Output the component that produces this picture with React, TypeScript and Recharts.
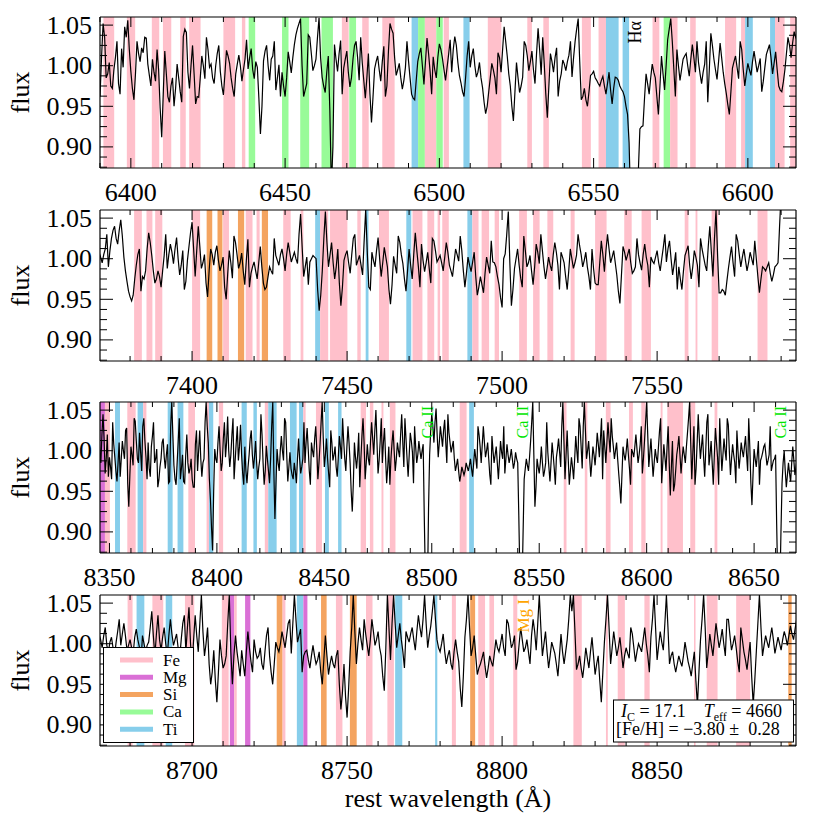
import React from "react";
import { LineChart, Line, XAxis, YAxis, ReferenceArea, ReferenceLine } from "recharts";

const FONT = "'Liberation Serif', 'Times New Roman', serif";

const ELEMENT_COLORS: Record<string, string> = {
  Fe: "#ffc0cb",
  Mg: "#da70d6",
  Si: "#f4a460",
  Ca: "#98fb98",
  Ti: "#87ceeb",
};
const LEGEND_ELEMENTS = ["Fe", "Mg", "Si", "Ca", "Ti"];

const Y_DOMAIN: [number, number] = [0.874, 1.06];
const Y_TICKS = [0.875, 0.8875, 0.9, 0.9125, 0.925, 0.9375, 0.95, 0.9625, 0.975, 0.9875, 1.0, 1.0125, 1.025, 1.0375, 1.05];

// panel 1: flux at 6390, 6391, ... A (FLUX) and at 6390.5, 6391.5, ... A (HALF)
const FLUX_1 = [
  0.962, 1.052, 0.985, 1.004, 0.972, 1.010, 0.978, 1.021, 1.048, 1.056,
  0.993, 0.958, 1.030, 1.005, 1.016, 1.034, 0.988, 1.008, 0.981, 0.995,
  0.912, 1.018, 0.962, 0.975, 0.950, 1.002, 0.968, 1.036, 1.041, 0.972,
  1.025, 0.953, 0.961, 1.012, 0.984, 1.020, 1.002, 0.978, 1.015, 0.993,
  0.964, 1.019, 1.003, 0.972, 0.990, 1.013, 0.981, 1.008, 0.996, 1.021,
  0.984, 0.998, 0.916, 1.006, 1.025, 0.982, 1.012, 0.970, 1.001, 0.992,
  0.962, 1.017, 0.991, 1.026, 1.046, 1.058, 0.962, 0.978, 1.035, 0.994,
  1.008, 1.059, 0.986, 0.967, 1.012, 0.850, 1.026, 0.993, 1.031, 0.997,
  1.018, 0.974, 1.008, 1.030, 0.982, 1.004, 0.960, 1.015, 0.930, 0.996,
  1.012, 0.981, 1.024, 0.975, 1.052, 1.040, 0.988, 1.003, 0.971, 0.998,
  1.006, 0.965, 0.958, 1.005, 1.022, 0.977, 1.034, 0.993, 1.011, 0.985,
  1.027, 1.009, 0.982, 1.014, 0.992, 1.036, 1.004, 0.979, 0.962, 1.012,
  0.998, 1.021, 0.986, 1.004, 0.973, 0.941, 0.968, 1.003, 0.985, 1.016,
  0.992, 1.048, 1.012, 0.975, 0.932, 1.004, 0.967, 0.986, 1.025, 0.994,
  1.018, 0.978, 1.046, 0.989, 1.002, 0.936, 1.015, 0.992, 1.022, 0.981,
  1.007, 0.994, 1.013, 0.986, 1.030, 1.058, 0.958, 0.972, 0.950, 0.988,
  0.993, 0.982, 0.975, 0.987, 0.965, 0.992, 0.953, 0.986, 0.982, 0.971,
  0.962, 0.940, 0.830, 0.815, 0.835, 0.922, 0.926, 0.990, 0.965, 1.002,
  0.985, 0.940, 1.012, 0.970, 1.032, 1.058, 0.996, 1.020, 0.982, 1.008,
  1.015, 0.987, 1.026, 0.992, 1.004, 0.978, 1.002, 0.955, 1.040, 1.008,
  0.983, 1.028, 0.992, 0.966, 0.940, 0.997, 1.012, 0.984, 1.020, 0.975,
  1.003, 0.988, 1.018, 0.992, 1.009, 0.981, 1.014, 1.026, 0.990, 1.017,
  0.975, 0.968, 0.995, 1.035, 1.010, 1.042, 1.030,
];
const HALF_1 = [
  1.010, 1.035, 0.990, 0.975, 0.995, 1.030, 0.965, 0.998, 1.035, 1.020,
  0.972, 0.990, 1.015, 1.022, 1.035, 1.002, 0.975, 0.992, 1.020, 0.948,
  0.965, 0.990, 0.955, 0.985, 0.972, 0.985, 0.955, 1.045, 0.992, 1.000,
  0.990, 0.962, 0.985, 1.000, 1.035, 0.998, 0.985, 1.000, 1.025, 0.975,
  0.990, 1.012, 0.985, 0.962, 1.002, 1.000, 0.995, 1.032, 1.010, 0.995,
  1.005, 0.960, 0.950, 1.018, 1.000, 1.008, 1.030, 0.985, 0.962, 0.975,
  0.985, 1.005, 1.010, 1.038, 1.052, 1.000, 0.970, 1.038, 1.015, 1.000,
  1.035, 1.010, 0.975, 0.992, 0.945, 0.900, 1.008, 1.015, 0.965, 1.008,
  0.992, 0.985, 1.025, 1.010, 1.035, 0.982, 0.985, 0.965, 0.962, 1.005,
  0.995, 1.005, 0.962, 1.018, 1.045, 1.010, 0.995, 0.985, 0.982, 1.030,
  0.985, 0.960, 0.982, 1.015, 1.000, 1.005, 1.015, 0.965, 0.995, 1.010,
  1.020, 0.995, 0.998, 1.032, 1.020, 1.025, 0.988, 0.968, 0.985, 1.030,
  1.012, 1.000, 0.992, 0.985, 0.955, 0.950, 0.985, 0.995, 0.965, 1.010,
  1.020, 1.030, 0.990, 0.950, 0.968, 0.985, 0.975, 1.030, 1.012, 1.005,
  0.995, 1.015, 1.020, 1.035, 0.965, 0.975, 1.005, 1.010, 0.962, 0.990,
  1.002, 1.005, 1.030, 1.010, 1.045, 1.005, 0.962, 0.958, 0.968, 0.990,
  0.985, 0.978, 0.982, 0.975, 0.978, 0.970, 0.972, 0.985, 0.975, 0.968,
  0.950, 0.905, 0.820, 0.820, 0.870, 0.925, 0.960, 0.978, 0.985, 0.992,
  0.962, 0.975, 0.990, 1.000, 1.045, 1.030, 0.962, 1.000, 0.995, 1.012,
  1.000, 1.008, 1.010, 1.030, 0.990, 0.992, 1.030, 0.995, 1.025, 0.995,
  1.005, 1.010, 0.978, 0.952, 0.968, 1.005, 0.998, 1.030, 0.995, 0.990,
  0.995, 1.005, 1.005, 1.000, 0.968, 0.998, 1.020, 1.010, 1.003, 0.995,
  0.970, 0.980, 1.015, 1.025, 1.028, 1.035, 1.040,
];

// panel 2: 7370..7595 A
const FLUX_2 = [
  1.008, 0.995, 1.012, 0.990, 1.025, 1.040, 1.018, 1.048, 1.002, 0.972,
  0.953, 0.955, 0.992, 1.012, 0.978, 0.985, 1.032, 1.004, 0.970, 0.985,
  0.965, 1.004, 0.988, 1.018, 0.994, 1.026, 0.980, 1.010, 0.972, 1.015,
  1.045, 0.978, 1.040, 0.988, 1.005, 0.953, 1.012, 0.992, 1.016, 0.985,
  1.002, 0.950, 1.010, 0.976, 1.020, 0.988, 1.007, 0.968, 1.024, 0.982,
  0.996, 0.975, 1.015, 0.970, 0.965, 0.990, 0.981, 1.004, 0.992, 1.012,
  0.985, 1.020, 0.996, 1.008, 0.994, 1.055, 0.978, 1.002, 0.996, 1.004,
  1.000, 0.936, 0.985, 1.058, 0.990, 1.020, 0.975, 1.012, 0.942, 0.998,
  1.010, 0.982, 1.025, 0.992, 1.004, 0.980, 1.060, 0.965, 1.008, 0.990,
  1.026, 0.978, 1.014, 0.990, 0.944, 1.003, 0.982, 1.020, 0.994, 0.960,
  1.012, 0.975, 1.032, 0.990, 1.018, 0.984, 1.008, 0.970, 1.022, 0.996,
  1.004, 0.985, 1.020, 0.992, 0.978, 1.012, 0.997, 1.010, 0.965, 1.002,
  0.984, 1.008, 0.955, 0.978, 0.958, 1.002, 0.982, 0.996, 0.990, 0.968,
  0.940, 1.006, 1.058, 0.942, 0.988, 1.012, 0.976, 1.028, 0.990, 1.004,
  0.968, 1.018, 0.994, 1.010, 0.975, 1.002, 0.985, 1.020, 0.992, 1.008,
  0.995, 0.962, 1.012, 0.988, 1.004, 1.016, 0.990, 1.008, 0.978, 1.012,
  0.970, 0.968, 1.022, 0.984, 1.030, 0.995, 1.010, 0.980, 0.945, 1.015,
  0.998, 1.012, 0.982, 0.990, 1.005, 0.986, 1.018, 0.992, 1.002, 0.994,
  1.010, 0.985, 1.014, 0.996, 1.022, 0.980, 1.008, 0.990, 0.962, 1.004,
  1.016, 0.975, 1.010, 0.992, 1.025, 1.002, 0.985, 1.040, 0.978, 1.060,
  0.958, 0.962, 0.955, 0.988, 1.015, 0.978, 1.022, 0.990, 1.012, 0.985,
  1.008, 0.992, 1.000, 0.958, 0.990, 0.985, 0.995, 0.972, 0.990, 0.995,
  1.080, 1.080, 1.080, 1.080, 1.080, 1.080,
];
const HALF_2 = [
  1.002, 1.005, 1.030, 1.010, 1.035, 1.025, 1.035, 1.028, 0.985, 0.960,
  0.948, 0.975, 1.005, 0.960, 0.975, 1.012, 1.020, 0.985, 0.975, 0.978,
  0.985, 1.030, 1.005, 1.008, 1.012, 1.000, 0.992, 0.962, 0.998, 1.032,
  1.012, 1.010, 1.015, 0.995, 0.970, 0.985, 1.005, 1.008, 0.998, 0.992,
  0.965, 0.982, 0.995, 1.028, 1.005, 0.995, 0.985, 0.998, 0.965, 0.990,
  0.985, 0.995, 0.990, 0.962, 0.978, 0.985, 1.025, 0.998, 1.005, 1.000,
  1.005, 1.008, 1.002, 1.000, 1.030, 1.015, 0.990, 0.968, 1.000, 1.002,
  0.962, 0.955, 1.025, 1.020, 1.005, 0.995, 0.990, 0.970, 0.965, 1.005,
  0.995, 1.005, 1.030, 0.998, 0.992, 1.022, 1.010, 0.962, 0.998, 1.010,
  1.000, 0.995, 1.002, 0.962, 0.968, 0.992, 1.028, 1.005, 0.975, 0.985,
  0.992, 1.005, 1.010, 0.965, 0.998, 0.995, 0.988, 1.025, 1.010, 1.000,
  0.995, 1.002, 1.008, 0.985, 0.995, 1.005, 1.028, 0.985, 0.982, 0.992,
  0.996, 0.978, 0.965, 0.968, 0.982, 0.992, 1.022, 0.995, 0.978, 0.952,
  1.000, 1.030, 0.995, 0.962, 1.000, 0.992, 0.965, 1.010, 0.995, 0.985,
  0.990, 1.008, 1.030, 0.990, 0.988, 0.992, 1.005, 1.008, 0.962, 1.002,
  0.978, 0.985, 1.000, 0.995, 1.030, 1.005, 0.998, 0.990, 0.962, 0.988,
  0.968, 0.995, 1.005, 1.010, 1.012, 1.002, 0.995, 0.960, 0.980, 1.008,
  1.005, 0.995, 0.985, 1.025, 0.995, 1.005, 1.002, 0.965, 0.997, 1.002,
  0.995, 1.000, 1.030, 1.012, 1.000, 0.993, 0.962, 0.975, 0.985, 1.010,
  0.992, 0.990, 1.002, 0.965, 1.012, 0.992, 1.015, 1.008, 1.025, 1.005,
  0.958, 0.960, 0.972, 1.002, 0.995, 1.030, 1.005, 1.002, 0.998, 0.995,
  1.000, 1.022, 0.978, 0.975, 0.988, 0.990, 0.982, 0.980, 0.992, 1.040,
  1.080, 1.080, 1.080, 1.080, 1.080, 1.080,
];

// panel 3: 8345..8670 A
const FLUX_3 = [
  1.030, 0.985, 1.045, 0.972, 1.020, 0.992, 0.965, 1.008, 0.975, 0.985,
  0.968, 1.012, 0.990, 1.028, 0.931, 1.005, 0.982, 1.036, 0.990, 1.022,
  0.975, 1.040, 0.992, 1.010, 0.968, 1.018, 0.985, 1.002, 0.964, 0.990,
  1.015, 0.978, 1.008, 0.962, 1.060, 0.982, 0.958, 1.012, 0.965, 0.995,
  0.960, 1.020, 0.972, 0.990, 0.955, 1.008, 0.975, 1.025, 0.968, 0.990,
  1.060, 1.010, 0.940, 0.877, 1.002, 0.985, 1.030, 0.975, 1.015, 0.992,
  1.042, 0.980, 1.020, 0.965, 1.010, 0.988, 1.032, 0.972, 1.005, 0.960,
  0.995, 1.025, 0.978, 1.012, 0.965, 0.990, 1.020, 0.958, 1.006, 0.975,
  0.990, 1.060, 0.916, 1.002, 0.975, 1.018, 0.988, 1.035, 0.962, 0.998,
  0.970, 0.985, 0.960, 1.015, 0.972, 0.990, 0.985, 1.028, 0.975, 1.010,
  0.992, 1.030, 0.965, 1.008, 1.060, 0.980, 1.015, 0.972, 1.025, 0.988,
  1.005, 0.968, 1.018, 0.990, 1.012, 0.975, 1.030, 0.985, 0.925, 1.010,
  0.978, 1.022, 0.990, 1.040, 0.965, 1.008, 0.982, 1.035, 0.995, 1.050,
  0.972, 1.012, 0.985, 1.028, 0.960, 1.005, 0.990, 1.025, 0.975, 1.010,
  0.992, 1.045, 0.980, 1.015, 0.968, 1.022, 0.998, 1.030, 0.985, 1.012,
  0.990, 1.008, 0.845, 0.830, 0.995, 1.045, 1.010, 1.052, 0.992, 1.030,
  1.005, 1.038, 0.985, 1.022, 0.998, 1.012, 0.975, 0.990, 0.962, 0.980,
  0.970, 0.985, 0.975, 0.990, 0.968, 1.002, 0.978, 1.020, 0.985, 1.030,
  0.992, 1.010, 0.970, 1.018, 0.985, 1.005, 0.965, 1.012, 0.990, 0.972,
  1.008, 0.985, 1.002, 0.978, 0.998, 0.985, 0.845, 0.830, 0.965, 0.990,
  0.975, 1.012, 1.060, 0.931, 0.990, 0.972, 1.005, 0.968, 0.985, 0.998,
  0.962, 1.010, 0.978, 0.992, 1.015, 0.980, 1.060, 0.965, 1.025, 0.958,
  0.992, 0.965, 1.018, 0.985, 1.030, 0.978, 1.060, 0.990, 1.012, 0.968,
  1.005, 0.982, 1.022, 0.992, 1.040, 1.025, 0.985, 1.035, 0.998, 1.018,
  0.990, 1.010, 0.972, 0.935, 1.005, 0.988, 1.015, 0.978, 1.002, 0.992,
  1.020, 0.985, 1.008, 0.972, 1.012, 1.060, 0.980, 1.015, 0.968, 1.002,
  0.985, 1.025, 0.960, 1.008, 0.975, 1.030, 0.945, 1.012, 0.958, 0.995,
  1.018, 0.972, 1.005, 0.985, 1.022, 1.060, 0.965, 1.030, 0.978, 1.045,
  0.990, 1.020, 0.968, 1.035, 0.982, 1.012, 0.958, 1.028, 0.992, 1.040,
  0.975, 1.015, 0.988, 1.032, 0.970, 1.008, 0.985, 1.025, 0.978, 1.010,
  0.992, 1.018, 0.975, 1.005, 0.933, 1.002, 0.980, 1.012, 0.988, 0.998,
  1.008, 0.982, 0.995, 0.975, 0.988, 0.995, 0.840, 0.830, 0.960, 1.000,
  0.955, 0.985, 0.962, 1.005, 0.970, 0.990,
];
const HALF_3 = [
  1.000, 1.020, 1.015, 0.990, 0.968, 0.980, 1.035, 0.992, 0.962, 1.010,
  0.990, 1.000, 1.025, 0.960, 0.970, 0.995, 1.040, 1.012, 0.985, 0.998,
  1.030, 1.012, 0.965, 0.978, 1.005, 1.035, 0.990, 0.955, 0.980, 1.010,
  0.992, 0.995, 0.960, 1.030, 1.020, 0.965, 0.985, 1.040, 0.978, 0.962,
  0.995, 0.985, 0.978, 0.965, 0.955, 1.025, 1.000, 0.990, 0.985, 1.035,
  1.030, 0.965, 0.905, 0.950, 0.990, 1.010, 1.000, 0.985, 1.035, 1.010,
  1.000, 0.995, 1.040, 0.988, 1.030, 1.005, 0.995, 0.958, 0.975, 0.980,
  1.015, 0.995, 0.992, 0.985, 0.980, 1.045, 0.985, 0.975, 0.990, 0.960,
  1.030, 0.975, 0.960, 0.985, 1.000, 1.000, 1.040, 0.995, 0.980, 0.978,
  0.965, 0.975, 0.990, 0.990, 0.980, 1.035, 1.010, 1.002, 0.958, 1.000,
  1.015, 1.000, 0.985, 1.035, 1.015, 0.995, 0.990, 0.955, 1.010, 0.995,
  0.980, 0.992, 1.005, 1.040, 0.990, 1.005, 1.010, 0.950, 0.960, 0.992,
  0.995, 0.955, 1.018, 1.010, 0.985, 0.990, 1.012, 1.015, 1.025, 1.010,
  0.988, 1.040, 1.010, 0.992, 0.980, 0.958, 1.010, 1.000, 0.990, 1.000,
  1.020, 1.010, 1.040, 0.990, 0.995, 1.012, 0.960, 1.005, 0.995, 1.000,
  1.000, 0.920, 0.830, 0.930, 1.025, 1.030, 1.035, 1.020, 1.010, 1.018,
  1.025, 1.010, 1.045, 1.010, 1.005, 0.990, 0.982, 0.975, 0.970, 0.975,
  0.975, 0.980, 0.982, 0.978, 0.985, 0.990, 1.030, 1.005, 1.008, 1.010,
  1.000, 0.990, 0.958, 1.000, 0.995, 0.985, 0.988, 0.998, 1.030, 0.990,
  0.995, 0.992, 0.990, 0.985, 0.990, 0.920, 0.825, 0.900, 0.978, 0.982,
  0.992, 1.035, 0.995, 0.955, 0.980, 0.985, 0.985, 0.975, 1.035, 0.980,
  0.985, 0.995, 0.958, 1.002, 0.998, 1.030, 1.012, 0.995, 0.990, 0.975,
  0.980, 0.990, 1.000, 1.040, 1.005, 1.030, 1.025, 1.000, 0.990, 0.985,
  0.995, 1.000, 1.008, 1.015, 0.965, 1.005, 1.010, 1.015, 1.040, 1.005,
  1.000, 0.990, 0.955, 0.970, 0.995, 1.000, 0.995, 0.958, 0.998, 1.005,
  1.002, 0.995, 1.030, 0.990, 1.035, 1.020, 0.998, 0.990, 0.985, 0.992,
  1.005, 1.040, 0.985, 0.992, 1.005, 0.985, 0.980, 0.950, 0.975, 1.005,
  0.995, 0.990, 0.995, 1.005, 1.040, 1.010, 0.998, 0.958, 1.010, 1.015,
  1.005, 0.992, 1.000, 1.045, 0.995, 0.985, 0.995, 1.010, 0.958, 1.005,
  0.995, 1.000, 1.040, 0.998, 0.990, 0.995, 0.960, 1.000, 0.992, 1.000,
  1.005, 0.995, 1.040, 0.960, 0.970, 0.990, 0.995, 0.958, 0.992, 1.005,
  0.995, 0.988, 1.030, 0.982, 0.990, 0.910, 0.825, 0.900, 0.985, 0.975,
  0.970, 0.972, 0.985, 0.988, 0.980, 0.990,
];

// panel 4: 8670..8895 A
const FLUX_4 = [
  1.012, 0.995, 1.020, 0.990, 1.008, 0.985, 1.015, 0.998, 1.025, 0.992,
  1.005, 0.988, 1.018, 0.996, 1.010, 0.990, 1.002, 1.040, 0.985, 1.035,
  0.992, 1.020, 0.985, 1.030, 0.998, 1.012, 0.982, 1.025, 0.990, 1.045,
  0.975, 1.035, 0.990, 1.060, 0.985, 1.020, 0.950, 0.992, 0.928, 1.005,
  0.970, 0.985, 1.060, 0.950, 1.010, 0.975, 0.992, 0.960, 1.015, 0.978,
  1.005, 0.982, 0.995, 0.968, 1.010, 0.985, 0.950, 1.002, 0.990, 1.015,
  0.995, 1.025, 0.988, 1.060, 1.002, 1.018, 0.985, 0.992, 0.970, 0.998,
  0.975, 0.990, 0.950, 1.010, 0.962, 0.985, 0.970, 0.992, 0.919, 0.975,
  0.909, 0.990, 1.060, 0.975, 1.020, 0.992, 1.012, 0.985, 1.030, 0.998,
  1.015, 0.985, 0.942, 1.060, 0.980, 1.060, 0.995, 1.025, 0.990, 1.015,
  1.002, 1.020, 0.992, 1.035, 1.008, 1.060, 0.995, 1.022, 1.060, 1.005,
  0.990, 1.012, 0.975, 0.992, 0.968, 1.005, 0.978, 0.922, 1.008, 1.060,
  0.985, 1.010, 0.962, 0.975, 0.990, 0.958, 0.985, 0.972, 1.005, 0.990,
  1.012, 0.985, 1.025, 0.995, 1.010, 0.978, 1.020, 0.990, 1.005, 0.975,
  1.030, 0.992, 1.060, 0.985, 1.015, 0.970, 1.002, 0.988, 0.960, 1.012,
  0.975, 1.005, 1.060, 1.060, 0.968, 0.985, 0.958, 0.995, 0.970, 1.008,
  0.962, 0.985, 0.928, 1.002, 1.060, 0.975, 1.015, 0.985, 1.008, 0.970,
  0.995, 0.982, 1.012, 0.978, 1.000, 0.990, 1.020, 0.985, 1.008, 1.060,
  0.980, 1.015, 0.992, 1.060, 0.975, 0.990, 0.965, 0.985, 0.972, 1.002,
  0.978, 0.960, 0.990, 0.924, 1.005, 1.060, 0.970, 1.012, 0.985, 1.025,
  0.995, 1.018, 0.985, 1.030, 0.992, 1.010, 0.978, 1.020, 0.990, 0.968,
  1.002, 0.925, 0.990, 1.060, 0.985, 1.010, 0.995, 1.020, 0.988, 1.008,
  0.992, 1.015, 0.998, 1.022, 1.005, 1.030,
];
const HALF_4 = [
  1.005, 1.010, 0.998, 1.002, 0.995, 1.002, 1.030, 1.012, 1.010, 0.998,
  0.995, 1.008, 1.005, 0.975, 1.000, 0.998, 1.020, 1.010, 1.012, 1.005,
  1.008, 1.000, 1.010, 1.012, 1.005, 0.995, 1.005, 1.035, 1.020, 1.000,
  1.005, 1.010, 1.025, 1.015, 1.000, 0.975, 0.965, 0.955, 0.965, 0.985,
  0.975, 1.025, 0.990, 0.985, 0.990, 0.960, 0.975, 0.990, 0.995, 0.965,
  0.990, 0.985, 0.975, 0.990, 1.020, 0.965, 0.975, 0.995, 1.000, 1.005,
  1.010, 1.030, 1.025, 1.030, 1.010, 0.965, 0.990, 0.980, 0.985, 0.985,
  0.980, 0.965, 0.980, 0.985, 0.975, 0.975, 0.985, 0.950, 0.940, 0.935,
  0.945, 1.020, 1.015, 1.000, 1.005, 1.030, 0.998, 1.005, 1.015, 1.005,
  0.995, 0.960, 0.995, 1.020, 1.025, 1.025, 1.010, 1.005, 0.970, 1.008,
  1.012, 1.005, 1.015, 1.020, 1.030, 1.025, 1.010, 1.040, 1.030, 0.995,
  1.000, 0.990, 0.985, 0.975, 0.990, 0.990, 0.945, 0.960, 1.030, 1.020,
  0.995, 0.985, 0.970, 0.982, 0.972, 0.970, 0.978, 0.988, 0.995, 1.000,
  0.995, 1.030, 1.010, 1.000, 0.968, 1.000, 1.005, 0.995, 0.990, 1.010,
  1.015, 1.025, 1.020, 1.000, 0.990, 0.985, 0.995, 0.975, 0.985, 0.990,
  0.990, 1.030, 1.040, 1.015, 0.975, 0.970, 0.975, 0.982, 0.990, 0.985,
  0.975, 0.955, 0.965, 1.030, 1.020, 0.995, 1.000, 0.995, 0.990, 0.985,
  0.988, 1.020, 0.995, 0.990, 0.995, 1.005, 1.000, 0.965, 1.030, 1.020,
  0.998, 1.002, 1.025, 1.020, 0.985, 0.975, 0.975, 0.978, 0.985, 0.990,
  0.970, 0.975, 0.955, 0.965, 1.030, 1.020, 0.990, 0.998, 1.005, 1.010,
  1.005, 1.000, 1.030, 1.010, 1.000, 0.995, 0.965, 1.005, 0.980, 0.985,
  0.960, 0.955, 1.025, 1.020, 0.998, 1.002, 1.008, 1.005, 0.998, 1.000,
  1.005, 1.008, 1.010, 1.012, 1.018, 1.025,
];

type Band = [number, number, string];

const BANDS_1: Band[] = [
  [6391.1, 6394.6, "Fe"], [6398.7, 6401.4, "Fe"], [6406.8, 6409.2, "Fe"], [6410.4, 6413.1, "Fe"],
  [6416, 6417.8, "Fe"], [6418.9, 6422.6, "Fe"], [6430, 6433.8, "Fe"], [6436, 6437.1, "Fe"],
  [6438.2, 6440.3, "Ca"], [6449, 6451.1, "Ca"], [6454.9, 6457.8, "Ca"], [6461.8, 6465.5, "Ca"],
  [6468.4, 6470.6, "Fe"], [6470.8, 6473, "Ca"], [6475, 6477.1, "Fe"], [6481.5, 6485.5, "Fe"],
  [6491, 6493.1, "Ti"], [6493.1, 6495.3, "Ca"], [6495.3, 6499, "Fe"], [6499, 6501.1, "Ca"],
  [6501.4, 6503.1, "Fe"], [6507.8, 6509.8, "Ti"], [6515.7, 6520.1, "Fe"], [6528.5, 6530, "Fe"],
  [6533.7, 6535.5, "Fe"], [6546.2, 6549.1, "Fe"], [6551.6, 6554, "Fe"], [6554, 6558.1, "Ti"],
  [6559.4, 6561.5, "Ti"], [6569.1, 6571.3, "Fe"], [6572.7, 6574.8, "Ca"], [6574.8, 6577.2, "Fe"],
  [6581.3, 6583.1, "Fe"], [6592.6, 6596.2, "Fe"], [6597.8, 6599.1, "Fe"], [6599.1, 6601.6, "Ti"],
  [6607.2, 6608.8, "Ti"], [6608.8, 6611.9, "Fe"], [6613.7, 6615.6, "Fe"],
];

const BANDS_2: Band[] = [
  [7381.3, 7383.8, "Fe"], [7385.3, 7387.2, "Fe"], [7388.1, 7390.4, "Fe"], [7400, 7402.6, "Fe"],
  [7404.7, 7406.5, "Si"], [7408.2, 7409.8, "Si"], [7410, 7411.9, "Fe"], [7414.8, 7416.8, "Si"],
  [7417.3, 7419.5, "Fe"], [7420.8, 7421.8, "Fe"], [7422.5, 7424.5, "Si"], [7429.4, 7431.8, "Fe"],
  [7435, 7435.9, "Fe"], [7439.7, 7441.3, "Ti"], [7441.3, 7443.9, "Fe"], [7444.5, 7450.1, "Fe"],
  [7453.3, 7454.4, "Fe"], [7456, 7456.9, "Ti"], [7460.3, 7463.5, "Fe"], [7469.1, 7470.7, "Ti"],
  [7471.1, 7474.3, "Fe"], [7475.9, 7478.1, "Fe"], [7479.2, 7480, "Fe"], [7480.7, 7482.8, "Fe"],
  [7488.8, 7490.4, "Ti"], [7490.4, 7492.4, "Fe"], [7493.4, 7495.8, "Fe"], [7497.6, 7499, "Fe"],
  [7505.5, 7508, "Fe"], [7510, 7512.1, "Fe"], [7514.6, 7516.5, "Fe"], [7522.1, 7523.4, "Fe"],
  [7530, 7533.7, "Fe"], [7539.4, 7541.8, "Fe"], [7545, 7548, "Fe"], [7558.9, 7560.1, "Fe"],
  [7562.4, 7563, "Fe"], [7567.6, 7569.7, "Fe"], [7582.4, 7585.6, "Fe"],
];

const BANDS_3: Band[] = [
  [8345.6, 8347.9, "Mg"], [8347.9, 8350.2, "Fe"], [8352.6, 8354.9, "Ti"], [8358.3, 8362.2, "Fe"],
  [8363.1, 8365.7, "Ti"], [8365.7, 8367.2, "Fe"], [8377.1, 8379.4, "Ti"], [8381.7, 8384.4, "Ti"],
  [8386.7, 8389.8, "Fe"], [8395.2, 8396.3, "Fe"], [8396.3, 8398.3, "Ti"], [8400.9, 8402.9, "Fe"],
  [8411.5, 8413.9, "Ti"], [8417, 8418.6, "Ti"], [8422.3, 8423.9, "Fe"], [8423.9, 8427.8, "Ti"],
  [8434, 8437.1, "Ti"], [8438.2, 8440.2, "Ti"], [8440.2, 8441.3, "Fe"], [8446.1, 8448.9, "Fe"],
  [8450.3, 8452.1, "Ti"], [8456.4, 8458, "Ti"], [8466.9, 8469.4, "Fe"], [8471.2, 8472.8, "Fe"],
  [8476.6, 8477.5, "Fe"], [8480.5, 8483.1, "Fe"], [8513, 8516.2, "Fe"], [8517.4, 8519.6, "Ti"],
  [8561.4, 8562.7, "Fe"], [8571.2, 8572.4, "Fe"], [8581, 8583.2, "Fe"], [8591.8, 8593.6, "Fe"],
  [8597.5, 8599.5, "Fe"], [8606.5, 8607.4, "Fe"], [8609.6, 8616.9, "Fe"], [8620.3, 8622.6, "Fe"],
  [8631.6, 8632.9, "Fe"],
];

const BANDS_4: Band[] = [
  [8679.2, 8680.8, "Fe"], [8682.1, 8684.6, "Ti"], [8687.2, 8690.7, "Fe"], [8691.5, 8693.6, "Ti"],
  [8697.7, 8700.7, "Fe"], [8709.6, 8711.8, "Fe"], [8712.2, 8713.6, "Mg"], [8713.6, 8714.4, "Fe"],
  [8717.1, 8718.8, "Mg"], [8727.3, 8729.2, "Si"], [8729.2, 8730.1, "Fe"], [8733.8, 8735.9, "Ti"],
  [8735.9, 8737.2, "Mg"], [8741.6, 8743.4, "Si"], [8746.4, 8748.5, "Fe"], [8750.9, 8753.1, "Si"],
  [8756.1, 8758.2, "Fe"], [8763, 8765.1, "Fe"], [8765.5, 8767.8, "Ti"], [8778.4, 8779.1, "Ti"],
  [8783.8, 8785.1, "Fe"], [8789.7, 8791.3, "Si"], [8792.3, 8794.5, "Fe"], [8795.9, 8797.4, "Fe"],
  [8803.6, 8804.9, "Fe"], [8823, 8825.7, "Fe"], [8833.5, 8834.1, "Fe"], [8837.3, 8839.6, "Fe"],
  [8845.9, 8847.6, "Fe"], [8861.9, 8862.4, "Fe"], [8866, 8869.5, "Fe"], [8875.5, 8880, "Fe"],
  [8892.3, 8893.4, "Si"],
];

type LineMark = { w: number; text: string; color: string; size: number };

const MARKS_1: LineMark[] = [{ w: 6563.5, text: "Hα", color: "#000000", size: 18 }];
const MARKS_3: LineMark[] = [
  { w: 8498.0, text: "Ca II", color: "#00e600", size: 16 },
  { w: 8542.1, text: "Ca II", color: "#00e600", size: 16 },
  { w: 8662.1, text: "Ca II", color: "#00e600", size: 16 },
];
const MARKS_4: LineMark[] = [{ w: 8806.8, text: "Mg I", color: "#ffa500", size: 17 }];

const PANELS = [
  { top: 17, start: 6390, domain: [6390, 6615.6], flux: FLUX_1, half: HALF_1, bands: BANDS_1, marks: MARKS_1 },
  { top: 210, start: 7370, domain: [7370.3, 7594.8], flux: FLUX_2, half: HALF_2, bands: BANDS_2, marks: [] as LineMark[] },
  { top: 402, start: 8345, domain: [8345.6, 8669.5], flux: FLUX_3, half: HALF_3, bands: BANDS_3, marks: MARKS_3 },
  { top: 595, start: 8670, domain: [8670.3, 8894.8], flux: FLUX_4, half: HALF_4, bands: BANDS_4, marks: MARKS_4 },
];

const CHART_W = 830;
const PLOT_L = 100;
const PLOT_R = 796;
const PLOT_T = 10;
const PLOT_H = 151;
const PLOT_B = PLOT_T + PLOT_H;
const BOTTOM_H = 40;
const TXT = { fontFamily: FONT };

function BottomTick({ x, payload }: any) {
  const v = payload.value;
  const major = v % 50 === 0;
  return (
    <g>
      <line x1={x} x2={x} y1={PLOT_B} y2={PLOT_B - (major ? 10 : 5)} stroke="#000" strokeWidth={1} />
      {major && (
        <text x={x} y={PLOT_B + 33} textAnchor="middle" fontSize={26} style={TXT} fill="#000">
          {v}
        </text>
      )}
    </g>
  );
}

function TopTick({ x, payload }: any) {
  const major = payload.value % 50 === 0;
  return <line x1={x} x2={x} y1={PLOT_T} y2={PLOT_T + (major ? 10 : 5)} stroke="#000" strokeWidth={1} />;
}

const isMajorY = (v: number) => Math.round(v * 1000) % 50 === 0;

function LeftTick({ y, payload }: any) {
  const v = payload.value;
  const major = isMajorY(v);
  return (
    <g>
      <line x1={PLOT_L} x2={PLOT_L + (major ? 13 : 7)} y1={y} y2={y} stroke="#000" strokeWidth={1} />
      {major && (
        <text x={92} y={y} textAnchor="end" dominantBaseline="central" fontSize={26} style={TXT} fill="#000">
          {v.toFixed(2)}
        </text>
      )}
    </g>
  );
}

function RightTick({ y, payload }: any) {
  const major = isMajorY(payload.value);
  return <line x1={PLOT_R} x2={PLOT_R - (major ? 13 : 7)} y1={y} y2={y} stroke="#000" strokeWidth={1} />;
}

function MarkLabel({ viewBox, text, color, size }: any) {
  const x = viewBox ? viewBox.x : 0;
  return (
    <text
      transform={`translate(${x},${PLOT_T + 4}) rotate(-90)`}
      textAnchor="end"
      dominantBaseline="central"
      fontSize={size}
      style={TXT}
      fill={color}
    >
      {text}
    </text>
  );
}

function Panel({ top, start, domain, flux, half, bands, marks }: any) {
  const data: { w: number; f: number }[] = [];
  flux.forEach((f: number, i: number) => {
    data.push({ w: start + i, f });
    data.push({ w: start + i + 0.5, f: half[i] });
  });
  const ticks: number[] = [];
  for (let t = Math.ceil(domain[0] / 10) * 10; t <= domain[1]; t += 10) ticks.push(t);

  return (
    <div style={{ position: "absolute", left: 0, top: top - PLOT_T }}>
      <LineChart
        width={CHART_W}
        height={PLOT_T + PLOT_H + BOTTOM_H}
        data={data}
        margin={{ top: 0, right: 0, bottom: 0, left: 0 }}
      >
        {bands.map(([a, b, el]: Band, i: number) => (
          <ReferenceArea
            key={i}
            xAxisId="b"
            yAxisId="l"
            x1={a}
            x2={b}
            fill={ELEMENT_COLORS[el]}
            fillOpacity={1}
            stroke="none"
            ifOverflow="hidden"
          />
        ))}
        <Line
          xAxisId="b"
          yAxisId="l"
          type="linear"
          dataKey="f"
          stroke="#000"
          strokeWidth={1.2}
          dot={false}
          isAnimationActive={false}
        />
        {marks.map((m: LineMark, i: number) => (
          <ReferenceLine
            key={"m" + i}
            xAxisId="b"
            yAxisId="l"
            x={m.w}
            stroke="none"
            label={<MarkLabel text={m.text} color={m.color} size={m.size} />}
          />
        ))}
        <XAxis
          xAxisId="b"
          dataKey="w"
          type="number"
          domain={domain}
          allowDataOverflow
          ticks={ticks}
          interval={0}
          height={BOTTOM_H}
          tickLine={false}
          axisLine={{ stroke: "#000", strokeWidth: 1.2 }}
          tick={(p: any) => <BottomTick {...p} />}
        />
        <XAxis
          xAxisId="t"
          orientation="top"
          dataKey="w"
          type="number"
          domain={domain}
          allowDataOverflow
          ticks={ticks}
          interval={0}
          height={PLOT_T}
          tickLine={false}
          axisLine={{ stroke: "#000", strokeWidth: 1.2 }}
          tick={(p: any) => <TopTick {...p} />}
        />
        <YAxis
          yAxisId="l"
          type="number"
          domain={Y_DOMAIN}
          allowDataOverflow
          ticks={Y_TICKS}
          interval={0}
          width={PLOT_L}
          tickLine={false}
          axisLine={{ stroke: "#000", strokeWidth: 1.2 }}
          tick={(p: any) => <LeftTick {...p} />}
        />
        <YAxis
          yAxisId="r"
          orientation="right"
          type="number"
          domain={Y_DOMAIN}
          allowDataOverflow
          ticks={Y_TICKS}
          interval={0}
          width={CHART_W - PLOT_R}
          tickLine={false}
          axisLine={{ stroke: "#000", strokeWidth: 1.2 }}
          tick={(p: any) => <RightTick {...p} />}
        />
      </LineChart>
    </div>
  );
}

export default function App() {
  return (
    <div style={{ position: "absolute", left: 0, top: 0, width: 830, height: 830, background: "#fff" }}>
      {PANELS.map((p, i) => (
        <Panel key={i} {...p} />
      ))}
      <svg
        width={830}
        height={830}
        style={{ position: "absolute", left: 0, top: 0, pointerEvents: "none", fontFamily: FONT }}
      >
        {PANELS.map((p, i) => (
          <text
            key={i}
            transform={`translate(20,${p.top + PLOT_H / 2}) rotate(-90)`}
            textAnchor="middle"
            dominantBaseline="central"
            fontSize={26}
          >
            flux
          </text>
        ))}
        <text x={448} y={807} textAnchor="middle" fontSize={26}>
          rest wavelength (Å)
        </text>

        {/* element legend */}
        <rect x={103.5} y={647.5} width={90} height={95} fill="#fff" stroke="#000" strokeWidth={1} />
        {LEGEND_ELEMENTS.map((el, i) => {
          const y = 660 + i * 17.3;
          return (
            <g key={el}>
              <line x1={120} x2={153} y1={y} y2={y} stroke={ELEMENT_COLORS[el]} strokeWidth={5} />
              <text x={163} y={y + 5.5} fontSize={17}>
                {el}
              </text>
            </g>
          );
        })}

        {/* star parameters */}
        <rect x={613.5} y={700} width={180} height={42} fill="#fff" stroke="#000" strokeWidth={1} />
        <text x={621} y={717} fontSize={18} style={{ whiteSpace: "pre", fontFamily: FONT }}>
          <tspan fontStyle="italic">I</tspan>
          <tspan fontSize={12} dy={4}>C</tspan>
          <tspan dy={-4}>{" = 17.1    "}</tspan>
          <tspan fontStyle="italic">T</tspan>
          <tspan fontSize={12} dy={4}>eff</tspan>
          <tspan dy={-4}>{" = 4660"}</tspan>
        </text>
        <text x={616} y={735} fontSize={18} style={{ whiteSpace: "pre", fontFamily: FONT }}>
          [Fe/H] = −3.80 ±  0.28
        </text>
      </svg>
    </div>
  );
}
